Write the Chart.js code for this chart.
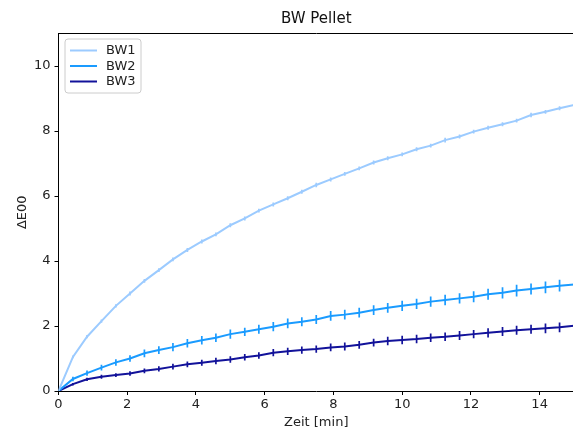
<!DOCTYPE html>
<html>
<head>
<meta charset="utf-8">
<script src="https://cdn.jsdelivr.net/npm/chart.js@4"></script>
<style>
  html, body { margin: 0; padding: 0; background: #fff; overflow: hidden; }
  #wrap { width: 574px; height: 431px; }
</style>
</head>
<body>
<div id="wrap"><canvas id="c" width="574" height="431"></canvas></div>
<script>
const chartTitle = 'BW Pellet';
const xTitle = 'Zeit [min]';
const yTitle = 'ΔE00';
const xTicks = [0, 2, 4, 6, 8, 10, 12, 14];
const yTicks = [0, 2, 4, 6, 8, 10];

const times = [0, 0.42, 0.83, 1.25, 1.67, 2.08, 2.5, 2.92, 3.33, 3.75, 4.17, 4.58, 5, 5.42, 5.83, 6.25, 6.67, 7.08, 7.5, 7.92, 8.33, 8.75, 9.17, 9.58, 10, 10.42, 10.83, 11.25, 11.67, 12.08, 12.5, 12.92, 13.33, 13.75, 14.17, 14.58, 15];

const seriesNames = ['BW1', 'BW2', 'BW3'];
const seriesColors = ['#9ccbff', '#1a9bff', '#12129a'];

const bw1 = [0, 1.05, 1.67, 2.15, 2.62, 3.0, 3.39, 3.72, 4.05, 4.34, 4.6, 4.82, 5.1, 5.31, 5.55, 5.74, 5.93, 6.13, 6.34, 6.51, 6.68, 6.85, 7.03, 7.16, 7.28, 7.44, 7.55, 7.72, 7.83, 7.98, 8.1, 8.21, 8.32, 8.49, 8.59, 8.7, 8.8];
const bw2 = [0, 0.37, 0.55, 0.72, 0.88, 1.0, 1.16, 1.26, 1.35, 1.47, 1.56, 1.64, 1.75, 1.82, 1.9, 1.98, 2.08, 2.13, 2.2, 2.31, 2.35, 2.41, 2.49, 2.56, 2.62, 2.68, 2.75, 2.8, 2.85, 2.9, 2.98, 3.02, 3.09, 3.14, 3.19, 3.24, 3.28];
const bw3 = [0, 0.21, 0.36, 0.44, 0.49, 0.54, 0.62, 0.68, 0.75, 0.82, 0.87, 0.92, 0.97, 1.04, 1.09, 1.18, 1.22, 1.26, 1.29, 1.34, 1.37, 1.42, 1.49, 1.54, 1.57, 1.6, 1.64, 1.67, 1.71, 1.75, 1.79, 1.83, 1.87, 1.9, 1.93, 1.96, 2.01];

const bw1Err = [0, 0.04, 0.05, 0.05, 0.05, 0.06, 0.06, 0.06, 0.06, 0.06, 0.06, 0.06, 0.06, 0.06, 0.06, 0.06, 0.06, 0.06, 0.07, 0.06, 0.06, 0.06, 0.06, 0.06, 0.06, 0.06, 0.06, 0.07, 0.06, 0.06, 0.06, 0.06, 0.06, 0.07, 0.06, 0.06, 0.06];
const bw2Err = [0, 0.07, 0.08, 0.09, 0.1, 0.1, 0.12, 0.12, 0.13, 0.13, 0.13, 0.13, 0.14, 0.13, 0.14, 0.14, 0.15, 0.14, 0.14, 0.15, 0.15, 0.15, 0.15, 0.15, 0.16, 0.16, 0.16, 0.16, 0.16, 0.17, 0.17, 0.17, 0.18, 0.17, 0.18, 0.18, 0.18];
const bw3Err = [0, 0.04, 0.05, 0.06, 0.06, 0.07, 0.07, 0.08, 0.09, 0.09, 0.09, 0.1, 0.1, 0.1, 0.1, 0.11, 0.11, 0.11, 0.11, 0.12, 0.12, 0.12, 0.12, 0.13, 0.13, 0.13, 0.13, 0.13, 0.14, 0.13, 0.14, 0.14, 0.14, 0.14, 0.15, 0.15, 0.15];

const seriesValues = [bw1, bw2, bw3];
const seriesErrors = [bw1Err, bw2Err, bw3Err];

const FONT = 'DejaVu Sans';

const datasets = seriesNames.map((name, i) => ({
  label: name,
  data: times.map((t, j) => ({ x: t, y: seriesValues[i][j] })),
  errors: seriesErrors[i],
  borderColor: seriesColors[i],
  backgroundColor: seriesColors[i],
  borderWidth: 2,
  pointRadius: 0,
  pointHoverRadius: 0,
  tension: 0,
  fill: false
}));

const errorBars = {
  id: 'errorBars',
  afterDatasetsDraw(chart) {
    const { ctx, scales: { x, y }, chartArea } = chart;
    ctx.save();
    ctx.beginPath();
    ctx.rect(chartArea.left, chartArea.top, chartArea.right - chartArea.left, chartArea.bottom - chartArea.top);
    ctx.clip();
    chart.data.datasets.forEach(ds => {
      ctx.strokeStyle = ds.borderColor;
      ctx.lineWidth = 1.7;
      ds.data.forEach((p, j) => {
        const e = ds.errors[j];
        if (!e) return;
        const px = x.getPixelForValue(p.x);
        ctx.beginPath();
        ctx.moveTo(px, y.getPixelForValue(p.y - e));
        ctx.lineTo(px, y.getPixelForValue(p.y + e));
        ctx.stroke();
      });
    });
    ctx.restore();
  }
};

const mplLegend = {
  id: 'mplLegend',
  afterDraw(chart) {
    const { ctx, chartArea } = chart;
    const x0 = chartArea.left + 6.5, y0 = chartArea.top + 5.5;
    const w = 76, h = 54;
    ctx.save();
    ctx.fillStyle = 'rgba(255,255,255,0.8)';
    ctx.strokeStyle = '#cccccc';
    ctx.lineWidth = 1;
    ctx.beginPath();
    if (ctx.roundRect) ctx.roundRect(x0, y0, w, h, 3); else ctx.rect(x0, y0, w, h);
    ctx.fill();
    ctx.stroke();
    ctx.font = '13px "' + FONT + '"';
    ctx.textBaseline = 'middle';
    ctx.textAlign = 'left';
    chart.data.datasets.forEach((ds, i) => {
      const cy = y0 + 11.5 + i * 15.5;
      ctx.strokeStyle = ds.borderColor;
      ctx.lineWidth = 2;
      ctx.beginPath();
      ctx.moveTo(x0 + 5, cy);
      ctx.lineTo(x0 + 32, cy);
      ctx.stroke();
      ctx.fillStyle = '#222';
      ctx.fillText(ds.label, x0 + 41, cy + 0.5);
    });
    ctx.restore();
  }
};

new Chart(document.getElementById('c'), {
  type: 'line',
  data: { datasets },
  plugins: [errorBars, mplLegend],
  options: {
    responsive: false,
    animation: false,
    devicePixelRatio: 1,
    layout: { padding: 0 },
    plugins: {
      legend: { display: false },
      tooltip: { enabled: false },
      title: { display: false }
    },
    scales: {
      x: {
        type: 'linear',
        position: 'bottom',
        min: 0,
        max: 15,
        afterBuildTicks: s => { s.ticks = xTicks.map(v => ({ value: v })); },
        afterFit: s => { s.height = 40; },
        grid: { display: true, drawOnChartArea: false, drawTicks: true, tickLength: 4, color: '#000', lineWidth: 1 },
        border: { display: true, color: '#000', width: 1 },
        ticks: { color: '#222', font: { family: FONT, size: 13 }, padding: 2, maxRotation: 0, autoSkip: false },
        title: { display: true, text: xTitle, color: '#222', font: { family: FONT, size: 13 }, padding: { top: 0, bottom: 1 } }
      },
      xTop: {
        type: 'linear',
        position: 'top',
        min: 0,
        max: 15,
        afterFit: s => { s.height = 33.5; },
        grid: { display: true, drawOnChartArea: false, drawTicks: false },
        border: { display: true, color: '#000', width: 1 },
        ticks: { display: false },
        title: { display: true, text: chartTitle, color: '#111', font: { family: FONT, size: 15 }, padding: { top: 10, bottom: 0 } }
      },
      y: {
        type: 'linear',
        position: 'left',
        min: 0,
        max: 11,
        afterBuildTicks: s => { s.ticks = yTicks.map(v => ({ value: v })); },
        afterFit: s => { s.width = 58.5; },
        grid: { display: true, drawOnChartArea: false, drawTicks: true, tickLength: 4, color: '#000', lineWidth: 1 },
        border: { display: true, color: '#000', width: 1 },
        ticks: { color: '#222', font: { family: FONT, size: 13 }, padding: 4 },
        title: { display: true, text: yTitle, color: '#222', font: { family: FONT, size: 13 }, padding: { top: 15, bottom: 0 } }
      }
    }
  }
});
</script>
</body>
</html>
